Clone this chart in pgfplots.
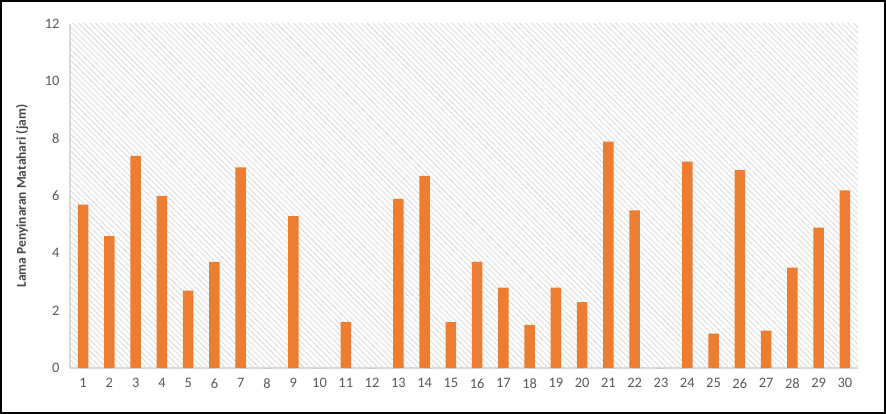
\documentclass[border=0pt]{standalone}
\usepackage{fontspec}
\setmainfont{Carlito}
\usepackage{pgfplots}
\pgfplotsset{compat=1.18}
\usetikzlibrary{patterns.meta}
\definecolor{barorange}{HTML}{ED7D31}
\definecolor{ticktext}{HTML}{595959}
\definecolor{axisline}{HTML}{D9D9D9}
\definecolor{hatch}{HTML}{D6D6D6}
\begin{document}
\begin{tikzpicture}
\begin{axis}[
  at={(0,0)}, anchor=south west,
  scale only axis,
  width=788bp, height=344bp,
  xmin=0.5, xmax=30.5,
  ymin=0, ymax=12,
  ytick={0,2,4,6,8,10,12},
  xtick={1,...,30},
  major tick length=0pt,
  axis x line*=bottom,
  axis y line*=left,
  x axis line style={draw=axisline, line width=1.5bp, -},
  y axis line style={draw=axisline, line width=1.2bp, -},
  axis background/.style={pattern={Lines[angle=-45, distance=4bp, line width=0.75bp]}, pattern color=hatch},
  tick label style={font=\fontsize{14.5}{16}\selectfont, text=ticktext},
  /pgf/number format/assume math mode=true,
  xticklabel style={yshift=-7bp},
  yticklabel style={xshift=-7bp},
  ylabel={Lama Penyinaran Matahari (jam)},
  ylabel style={font=\fontsize{13.5}{15}\selectfont\bfseries, text=ticktext!80!black,
    at={(axis description cs:0,0.5)}, anchor=center, yshift=48bp},
  ybar, bar width=10.5bp, bar shift=0pt,
  clip=false,
]
\addplot[fill=barorange, draw=none] coordinates {
(1,5.7) (2,4.6) (3,7.4) (4,6.0) (5,2.7) (6,3.7) (7,7.0) (8,0) (9,5.3) (10,0)
(11,1.6) (12,0) (13,5.9) (14,6.7) (15,1.6) (16,3.7) (17,2.8) (18,1.5) (19,2.8) (20,2.3)
(21,7.9) (22,5.5) (23,0) (24,7.2) (25,1.2) (26,6.9) (27,1.3) (28,3.5) (29,4.9) (30,6.2)
};
\end{axis}
\draw[black, line width=2bp] (-69bp,-45bp) rectangle (815bp,367bp);
\end{tikzpicture}
\end{document}
